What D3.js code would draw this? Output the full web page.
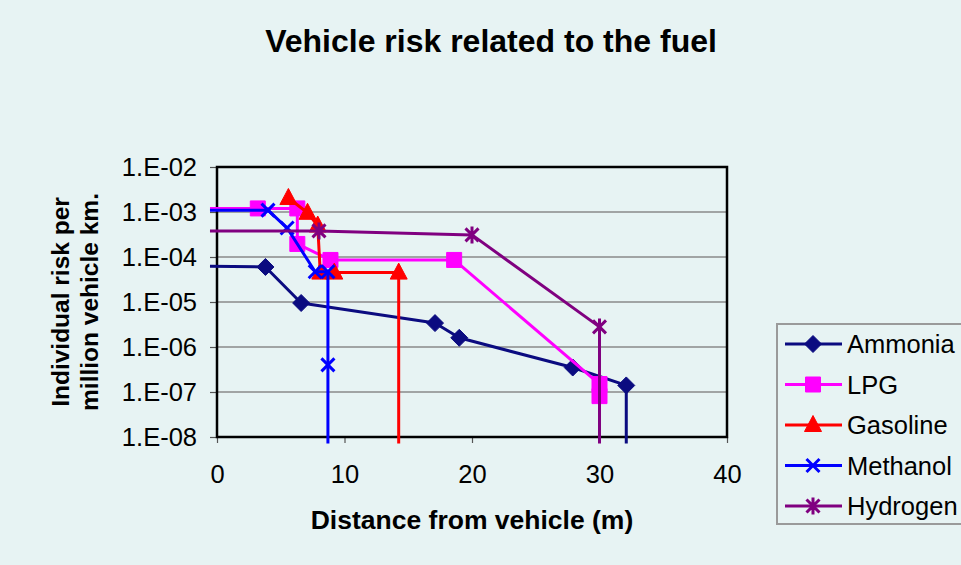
<!DOCTYPE html>
<html>
<head>
<meta charset="utf-8">
<script src="https://cdn.jsdelivr.net/npm/d3@7"></script>
<style>
  body { margin: 0; background: #e7f3f3; }
  svg { display: block; font-family: Arial, "Liberation Sans", sans-serif; }
</style>
</head>
<body>
<script>
// ---- data ----
// points outside the axes (x<0, y<1e-8) are line extensions only, no marker
var seriesNames = ["Ammonia", "LPG", "Gasoline", "Methanol", "Hydrogen"];
var seriesColors = ["#0b0b80", "#ff00ff", "#ff0000", "#0000ff", "#800080"];
var seriesSymbols = ["diamond", "square", "triangle", "cross", "star"];

var ammonia = [[-0.55, 6.2e-5], [3.8, 6.0e-5], [6.6, 9.5e-6], [17.1, 3.4e-6], [19.0, 1.6e-6], [27.9, 3.5e-7], [32.1, 1.4e-7], [32.1, 7.2e-9]];
var lpg = [[-0.55, 1.2e-3], [3.2, 1.2e-3], [6.3, 1.2e-3], [6.3, 1.95e-4], [8.9, 8.6e-5], [18.6, 8.6e-5], [30.0, 1.5e-7], [30.0, 8.1e-8]];
var gasoline = [[5.6, 2.05e-3], [7.1, 9.6e-4], [7.9, 5.0e-4], [8.1, 4.5e-5], [9.2, 4.5e-5], [14.25, 4.5e-5], [14.25, 7.2e-9]];
var methanol = [[-0.55, 1.1e-3], [4.0, 1.1e-3], [5.5, 4.4e-4], [7.7, 4.7e-5], [8.7, 4.7e-5], [8.7, 4.0e-7], [8.7, 7.2e-9]];
var hydrogen = [[-0.55, 3.8e-4], [8.0, 3.8e-4], [20.0, 3.1e-4], [30.0, 2.8e-6], [30.0, 7.2e-9]];
var seriesValues = [ammonia, lpg, gasoline, methanol, hydrogen];

var xTicks = [0, 10, 20, 30, 40];
var yTicks = [1e-8, 1e-7, 1e-6, 1e-5, 1e-4, 1e-3, 1e-2];
var yTickLabels = ["1.E-08", "1.E-07", "1.E-06", "1.E-05", "1.E-04", "1.E-03", "1.E-02"];

var W = 961, H = 565;
var L = 217, R = 727, T = 167, B = 437;

var svg = d3.select("body").append("svg")
    .attr("width", W)
    .attr("height", H);

svg.append("rect")
    .attr("width", W).attr("height", H)
    .attr("fill", "#e7f3f3");

var x = d3.scaleLinear().domain([0, 40]).range([L, R]);
var y = d3.scaleLog().domain([1e-8, 1e-2]).range([B, T]);

// title
svg.append("text")
    .attr("x", 491).attr("y", 52)
    .attr("text-anchor", "middle")
    .attr("font-size", 32).attr("font-weight", "bold")
    .text("Vehicle risk related to the fuel");

// gridlines
svg.append("g")
  .selectAll("line")
  .data(yTicks.slice(1, -1))
  .join("line")
    .attr("x1", L).attr("x2", R)
    .attr("y1", function(d) { return y(d); })
    .attr("y2", function(d) { return y(d); })
    .attr("stroke", "#8a8a8a")
    .attr("stroke-width", 1.5);

// axes
var yAxis = d3.axisLeft(y)
    .tickValues(yTicks)
    .tickSize(7)
    .tickPadding(13)
    .tickFormat(function(d, i) { return yTickLabels[i]; });

var gy = svg.append("g")
    .attr("transform", "translate(" + L + ",0)")
    .call(yAxis);

var xAxis = d3.axisBottom(x)
    .tickValues(xTicks)
    .tickSize(6)
    .tickPadding(22)
    .tickFormat(d3.format("d"));

var gx = svg.append("g")
    .attr("transform", "translate(0," + B + ")")
    .call(xAxis);

[gx, gy].forEach(function(g) {
  g.select(".domain").remove();
  g.selectAll(".tick line").attr("stroke", "#555").attr("stroke-width", 1.2);
  g.selectAll(".tick text")
    .attr("font-family", "Arial, 'Liberation Sans', sans-serif")
    .attr("font-size", 25.5).attr("fill", "#000");
});

// plot border
svg.append("rect")
    .attr("x", L).attr("y", T)
    .attr("width", R - L).attr("height", B - T)
    .attr("fill", "none")
    .attr("stroke", "#000")
    .attr("stroke-width", 2.5);

// axis titles
svg.append("text")
    .attr("x", 472).attr("y", 529)
    .attr("text-anchor", "middle")
    .attr("font-size", 26.5).attr("font-weight", "bold")
    .text("Distance from vehicle (m)");

var yt = svg.append("text")
    .attr("transform", "translate(69,302) rotate(-90)")
    .attr("text-anchor", "middle")
    .attr("font-size", 24.5).attr("font-weight", "bold");
yt.append("tspan").attr("x", 0).attr("y", 0).text("Individual risk per");
yt.append("tspan").attr("x", 0).attr("y", 29).text("million vehicle km.");

// marker paths
function markerPath(kind) {
  if (kind === "diamond") return "M0,-8.5L8.5,0L0,8.5L-8.5,0Z";
  if (kind === "square") return "M-7.5,-7.5H7.5V7.5H-7.5Z";
  if (kind === "triangle") return "M0,-9.5L8.5,6.5H-8.5Z";
  if (kind === "cross") return "M-6.5,-6.5L6.5,6.5M-6.5,6.5L6.5,-6.5";
  return "M-6.5,-6.5L6.5,6.5M-6.5,6.5L6.5,-6.5M0,-8.5V8.5"; // star
}

function drawMarker(g, kind, color) {
  var filled = kind === "diamond" || kind === "square" || kind === "triangle";
  g.append("path")
    .attr("d", markerPath(kind))
    .attr("fill", filled ? color : "none")
    .attr("stroke", color)
    .attr("stroke-width", filled ? 1 : 3);
}

var line = d3.line()
    .x(function(d) { return x(d[0]); })
    .y(function(d) { return y(d[1]); });

seriesValues.forEach(function(vals, i) {
  var g = svg.append("g");
  g.append("path")
    .attr("d", line(vals))
    .attr("fill", "none")
    .attr("stroke", seriesColors[i])
    .attr("stroke-width", 3)
    .attr("stroke-linejoin", "round");
  vals.filter(function(d) { return d[0] >= 0 && d[1] >= 1e-8; })
    .forEach(function(d) {
      var m = g.append("g").attr("transform", "translate(" + x(d[0]) + "," + y(d[1]) + ")");
      drawMarker(m, seriesSymbols[i], seriesColors[i]);
    });
});

// legend
var lg = svg.append("g");
lg.append("rect")
    .attr("x", 777).attr("y", 324)
    .attr("width", 200).attr("height", 200)
    .attr("fill", "#e7f3f3")
    .attr("stroke", "#9a9a9a")
    .attr("stroke-width", 2);

seriesNames.forEach(function(name, i) {
  var cy = 344 + i * 40.5;
  var row = lg.append("g");
  row.append("line")
    .attr("x1", 785).attr("x2", 842)
    .attr("y1", cy).attr("y2", cy)
    .attr("stroke", seriesColors[i])
    .attr("stroke-width", 3);
  var m = row.append("g").attr("transform", "translate(813," + cy + ")");
  drawMarker(m, seriesSymbols[i], seriesColors[i]);
  row.append("text")
    .attr("x", 847).attr("y", cy + 9)
    .attr("font-size", 25.5)
    .text(name);
});
</script>
</body>
</html>
